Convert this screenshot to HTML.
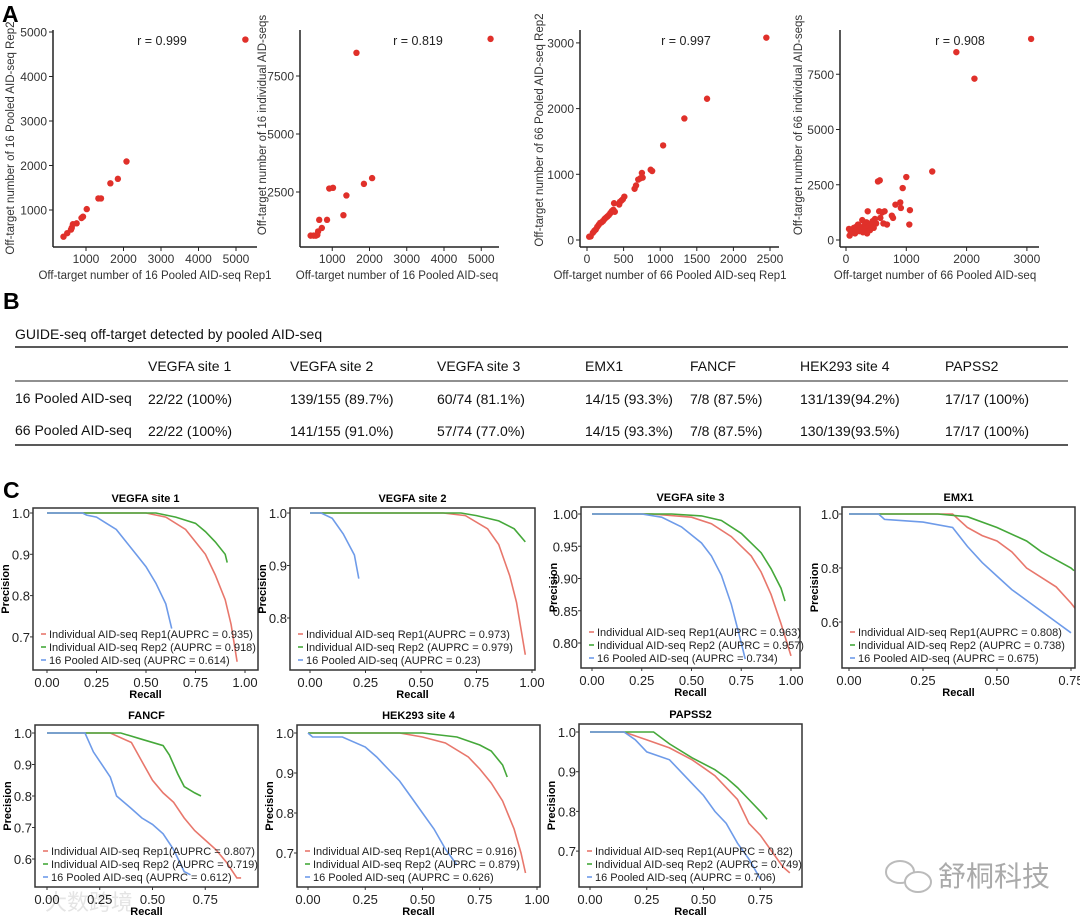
<!DOCTYPE html>
<html><head><meta charset="utf-8"><style>
html,body{margin:0;padding:0;background:#fff;}
svg{display:block;font-family:"Liberation Sans",Arial,sans-serif;}
</style></head><body>
<svg id="fig" width="1080" height="920" viewBox="0 0 1080 920" xmlns="http://www.w3.org/2000/svg">
<rect x="0" y="0" width="1080" height="920" fill="#fff"/>
<text x="2" y="22" font-size="23" font-weight="bold">A</text>
<text x="3" y="309" font-size="23" font-weight="bold">B</text>
<text x="3" y="498" font-size="23" font-weight="bold">C</text>
<g font-size="14" fill="#111">
<text x="15" y="339">GUIDE-seq off-target detected by pooled AID-seq</text>
<line x1="15" y1="347" x2="1068" y2="347" stroke="#222" stroke-width="1.5"/>
<line x1="15" y1="381" x2="1068" y2="381" stroke="#222" stroke-width="1"/>
<line x1="15" y1="445" x2="1068" y2="445" stroke="#222" stroke-width="1.5"/>
<text x="148" y="371">VEGFA site 1</text>
<text x="290" y="371">VEGFA site 2</text>
<text x="437" y="371">VEGFA site 3</text>
<text x="585" y="371">EMX1</text>
<text x="690" y="371">FANCF</text>
<text x="800" y="371">HEK293 site 4</text>
<text x="945" y="371">PAPSS2</text>
<text x="15" y="403">16 Pooled AID-seq</text>
<text x="148" y="404">22/22 (100%)</text><text x="290" y="404">139/155 (89.7%)</text><text x="437" y="404">60/74 (81.1%)</text><text x="585" y="404">14/15 (93.3%)</text><text x="690" y="404">7/8 (87.5%)</text><text x="800" y="404">131/139(94.2%)</text><text x="945" y="404">17/17 (100%)</text>
<text x="15" y="435">66 Pooled AID-seq</text>
<text x="148" y="436">22/22 (100%)</text><text x="290" y="436">141/155 (91.0%)</text><text x="437" y="436">57/74 (77.0%)</text><text x="585" y="436">14/15 (93.3%)</text><text x="690" y="436">7/8 (87.5%)</text><text x="800" y="436">130/139(93.5%)</text><text x="945" y="436">17/17 (100%)</text>
</g>
<g>
<ellipse cx="900" cy="872" rx="14" ry="11" fill="none" stroke="#bbb" stroke-width="2"/>
<ellipse cx="918" cy="882" rx="13" ry="10" fill="#fff" stroke="#bbb" stroke-width="2"/>
<text x="938" y="886" font-size="28" fill="#aaa" font-family="'Liberation Sans','Noto Sans CJK SC',sans-serif">舒桐科技</text>
<text x="45" y="910" font-size="22" fill="#e4e4e4" font-family="'Liberation Sans','Noto Sans CJK SC',sans-serif">大数跨境</text>
</g>
</svg>
<script>
const NS="http://www.w3.org/2000/svg";
const svg=document.getElementById('fig');
function mk(tag,attrs,parent,txt){const e=document.createElementNS(NS,tag);for(const k in attrs)e.setAttribute(k,attrs[k]);if(txt!==undefined)e.textContent=txt;(parent||svg).appendChild(e);return e;}

// ---- Panel A data ----
const a1X=[400,500,600,620,650,750,880,920,1020,1330,1400,1650,1850,2080,5250];
const a1Y=[400,480,560,600,680,700,820,850,1020,1260,1260,1600,1700,2090,4830];
const a2X=[420,500,560,600,620,650,720,860,920,1020,1300,1380,1650,1850,2070,5250];
const a2Y=[620,620,620,650,800,1300,950,1300,2650,2680,1500,2350,8500,2850,3100,9100];
const a3X=[30,50,80,100,120,140,160,180,200,220,240,260,280,300,320,340,360,370,380,440,450,470,490,510,650,670,700,730,750,760,870,890,1040,1330,1640,2450];
const a3Y=[50,55,110,140,160,200,230,260,270,290,320,340,360,380,410,440,460,560,430,540,580,600,620,660,780,830,920,940,1020,950,1070,1050,1440,1850,2150,3080];
const a4X=[50,60,80,100,130,150,170,190,200,220,250,270,280,300,320,340,350,360,380,400,420,440,460,480,500,530,560,550,570,600,620,640,680,760,780,820,900,910,940,1000,1050,1060,1430,1830,2130,3070];
const a4Y=[500,200,350,400,550,300,600,450,700,400,550,900,350,650,500,800,300,1300,600,450,700,850,550,950,750,2650,2700,1300,1000,1250,750,1300,700,1100,1000,1600,1700,1450,2350,2850,700,1350,3100,8500,7300,9100];
const aXTicks=[[1000,2000,3000,4000,5000],[1000,2000,3000,4000,5000],[0,500,1000,1500,2000,2500],[0,1000,2000,3000]];
const aYTicks=[[1000,2000,3000,4000,5000],[2500,5000,7500],[0,1000,2000,3000],[0,2500,5000,7500]];
const aR=["r = 0.999","r = 0.819","r = 0.997","r = 0.908"];
const aXTitles=["Off-target number of 16 Pooled AID-seq Rep1","Off-target number of 16 Pooled AID-seq","Off-target number of 66 Pooled AID-seq Rep1","Off-target number of 66 Pooled AID-seq"];
const aYTitles=["Off-target number of 16 Pooled AID-seq Rep2","Off-target number of 16 individual AID-seqs","Off-target number of 66 Pooled AID-seq Rep2","Off-target number of 66 individual AID-seqs"];
const aXs=[a1X,a2X,a3X,a4X], aYs=[a1Y,a2Y,a3Y,a4Y];
const aGeo=[
 {ax:53,right:257,x0:48.5,sx:0.0375,y0:254.5,sy:0.0445,rx:162,ttx:14,tty:138,xt:155},
 {ax:300,right:499,x0:295,sx:0.03725,y0:250,sy:0.0232,rx:418,ttx:266,tty:125,xt:397},
 {ax:580,right:779,x0:587,sx:0.0732,y0:240,sy:0.0657,rx:686,ttx:543,tty:130,xt:670},
 {ax:840,right:1039,x0:846,sx:0.0603,y0:240,sy:0.0221,rx:960,ttx:802,tty:125,xt:935}];
aGeo.forEach((g,i)=>{
 const G=mk('g',{});
 
 
 const xS=v=>g.x0+v*g.sx, yS=v=>g.y0-v*g.sy;
 mk('line',{x1:g.ax,y1:30,x2:g.ax,y2:247,stroke:'#222','stroke-width':1.5},G);
 mk('line',{x1:g.ax,y1:247,x2:g.right,y2:247,stroke:'#222','stroke-width':1.5},G);
 aXTicks[i].forEach(t=>{mk('line',{x1:xS(t),y1:247,x2:xS(t),y2:251,stroke:'#222'},G);
  const tx=mk('text',{x:xS(t),y:263,'font-size':12,fill:'#333','text-anchor':'middle'},G,String(t));
  });
 aYTicks[i].forEach(t=>{mk('line',{x1:g.ax-4,y1:yS(t),x2:g.ax,y2:yS(t),stroke:'#222'},G);
  const tx=mk('text',{x:g.ax-6,y:yS(t)+4.5,'font-size':12,fill:'#333','text-anchor':'end'},G,String(t));
  });
 aXs[i].forEach((v,j)=>{const c=mk('circle',{cx:xS(v),cy:yS(aYs[i][j]),r:3.2,fill:'#e0302a'},G);
  });
 const r=mk('text',{x:g.rx,y:45,'font-size':12.5,fill:'#222','text-anchor':'middle'},G,aR[i]);
 
 const xt=mk('text',{x:g.xt,y:279,'font-size':11.5,fill:'#333','text-anchor':'middle'},G,aXTitles[i]);
 
 const yt=mk('text',{x:0,y:0,'font-size':11.5,fill:'#333','text-anchor':'middle',transform:`translate(${g.ttx},${g.tty}) rotate(-90)`},G,aYTitles[i]);
 
});

// ---- Panel C data ----
const cTitles=["VEGFA site 1","VEGFA site 2","VEGFA site 3","EMX1","FANCF","HEK293 site 4","PAPSS2"];
const cRep1=[
 [[0,1],[0.5,1],[0.6,0.99],[0.7,0.96],[0.75,0.93],[0.8,0.9],[0.85,0.85],[0.9,0.79],[0.93,0.73],[0.95,0.67],[0.96,0.64]],
 [[0,1],[0.6,1],[0.7,0.995],[0.8,0.97],[0.85,0.94],[0.9,0.88],[0.93,0.83],[0.95,0.78],[0.97,0.73]],
 [[0,1],[0.3,1],[0.5,0.995],[0.6,0.985],[0.7,0.965],[0.8,0.935],[0.85,0.91],[0.9,0.875],[0.95,0.83],[1.0,0.78]],
 [[0,1],[0.35,1],[0.4,0.95],[0.45,0.92],[0.5,0.9],[0.55,0.86],[0.6,0.8],[0.7,0.73],[0.75,0.67],[0.8,0.6],[0.85,0.53],[0.9,0.47],[0.93,0.46]],
 [[0,1],[0.3,1],[0.4,0.97],[0.45,0.91],[0.5,0.85],[0.55,0.81],[0.6,0.78],[0.65,0.73],[0.7,0.69],[0.75,0.66],[0.8,0.63],[0.85,0.59],[0.9,0.54],[0.92,0.54]],
 [[0,1],[0.4,1],[0.5,0.99],[0.6,0.975],[0.7,0.94],[0.75,0.91],[0.8,0.875],[0.85,0.83],[0.9,0.76],[0.93,0.7],[0.95,0.65]],
 [[0,1],[0.15,1],[0.25,0.98],[0.35,0.96],[0.45,0.93],[0.5,0.91],[0.55,0.89],[0.6,0.86],[0.65,0.83],[0.7,0.77],[0.75,0.74],[0.8,0.7],[0.85,0.66],[0.88,0.645]]];
const cRep2=[
 [[0,1],[0.55,1],[0.65,0.99],[0.75,0.975],[0.8,0.955],[0.85,0.93],[0.9,0.9],[0.91,0.88]],
 [[0,1],[0.68,1],[0.75,0.995],[0.85,0.985],[0.92,0.97],[0.97,0.945]],
 [[0,1],[0.4,1],[0.55,0.997],[0.65,0.99],[0.75,0.97],[0.85,0.94],[0.9,0.915],[0.95,0.885],[0.97,0.865]],
 [[0,1],[0.3,1],[0.4,0.99],[0.5,0.95],[0.6,0.9],[0.65,0.86],[0.7,0.83],[0.75,0.8],[0.76,0.79]],
 [[0,1],[0.35,1],[0.45,0.98],[0.55,0.96],[0.58,0.93],[0.62,0.87],[0.65,0.83],[0.7,0.81],[0.73,0.8]],
 [[0,1],[0.5,1],[0.65,0.99],[0.75,0.97],[0.8,0.955],[0.85,0.92],[0.87,0.89]],
 [[0,1],[0.28,1],[0.35,0.97],[0.45,0.935],[0.55,0.905],[0.6,0.885],[0.65,0.86],[0.7,0.83],[0.75,0.8],[0.78,0.78]]];
const cPool=[
 [[0,1],[0.18,1],[0.2,0.995],[0.25,0.99],[0.3,0.975],[0.35,0.96],[0.4,0.93],[0.45,0.9],[0.5,0.87],[0.55,0.83],[0.6,0.78],[0.63,0.72]],
 [[0,1],[0.05,1],[0.1,0.99],[0.15,0.96],[0.2,0.92],[0.22,0.875]],
 [[0,1],[0.25,1],[0.35,0.995],[0.45,0.98],[0.55,0.955],[0.6,0.935],[0.65,0.905],[0.7,0.86],[0.75,0.8],[0.77,0.775]],
 [[0,1],[0.1,1],[0.12,0.98],[0.25,0.97],[0.35,0.95],[0.4,0.88],[0.45,0.82],[0.5,0.77],[0.55,0.72],[0.6,0.68],[0.65,0.64],[0.7,0.6],[0.75,0.56]],
 [[0,1],[0.18,1],[0.22,0.94],[0.25,0.91],[0.3,0.86],[0.33,0.8],[0.4,0.76],[0.45,0.73],[0.5,0.71],[0.55,0.68],[0.6,0.63],[0.65,0.56],[0.68,0.55]],
 [[0,1],[0.02,0.99],[0.15,0.99],[0.25,0.965],[0.3,0.94],[0.35,0.91],[0.4,0.88],[0.45,0.84],[0.5,0.8],[0.55,0.76],[0.6,0.71],[0.65,0.67]],
 [[0,1],[0.15,1],[0.2,0.98],[0.25,0.95],[0.35,0.93],[0.4,0.9],[0.45,0.87],[0.5,0.84],[0.55,0.8],[0.6,0.77],[0.65,0.72],[0.7,0.68],[0.75,0.63]]];
const cAuprc1=["0.935","0.973","0.963","0.808","0.807","0.916","0.82"];
const cAuprc2=["0.918","0.979","0.957","0.738","0.719","0.879","0.749"];
const cAuprcP=["0.614","0.23","0.734","0.675","0.612","0.626","0.706"];
const cXTicks=[[0,0.25,0.5,0.75,1],[0,0.25,0.5,0.75,1],[0,0.25,0.5,0.75,1],[0,0.25,0.5,0.75],[0,0.25,0.5,0.75],[0,0.25,0.5,0.75,1],[0,0.25,0.5,0.75]];
const cYTicks=[[0.7,0.8,0.9,1.0],[0.8,0.9,1.0],[0.8,0.85,0.9,0.95,1.0],[0.6,0.8,1.0],[0.6,0.7,0.8,0.9,1.0],[0.7,0.8,0.9,1.0],[0.7,0.8,0.9,1.0]];
const cYDec=[1,1,2,1,1,1,1];
const cGeo=[
 {L:33,R:258,T:508,B:670,x0:47,sx:198,y1:513,sy:413},
 {L:290,R:535,T:508,B:670,x0:310,sx:222,y1:513,sy:525},
 {L:581,R:800,T:507,B:668,x0:592,sx:199,y1:514,sy:645},
 {L:842,R:1075,T:507,B:668,x0:849,sx:296,y1:514,sy:270},
 {L:35,R:258,T:725,B:887,x0:47,sx:211,y1:733,sy:315},
 {L:297,R:540,T:725,B:887,x0:308,sx:229,y1:733,sy:400},
 {L:579,R:802,T:724,B:887,x0:590,sx:227,y1:732,sy:397}];
const cCol=['#e8776c','#45a83a','#6e9be9'];
cGeo.forEach((g,i)=>{
 const G=mk('g',{});
 
 
 const xS=v=>g.x0+v*g.sx, yS=v=>g.y1+(1-v)*g.sy;
 const cid='clip'+i;
 const cp=mk('clipPath',{id:cid},G); mk('rect',{x:g.L,y:g.T,width:g.R-g.L,height:g.B-g.T},cp);
 [cRep1[i],cRep2[i],cPool[i]].forEach((s,k)=>{
  const p=mk('polyline',{points:s.map(d=>xS(d[0]).toFixed(1)+','+yS(d[1]).toFixed(1)).join(' '),fill:'none',stroke:cCol[k],'stroke-width':1.6,'clip-path':`url(#${cid})`},G);
  
  
 });
 mk('rect',{x:g.L,y:g.T,width:g.R-g.L,height:g.B-g.T,fill:'none',stroke:'#333','stroke-width':1.5},G);
 const t=mk('text',{x:(g.L+g.R)/2,y:g.T-6,'font-size':11,'font-weight':'bold','text-anchor':'middle'},G,cTitles[i]);
 
 cXTicks[i].forEach(v=>{mk('line',{x1:xS(v),y1:g.B,x2:xS(v),y2:g.B+3,stroke:'#333'},G);
  const tx=mk('text',{x:xS(v),y:g.B+17,'font-size':13,fill:'#222','text-anchor':'middle'},G,v.toFixed(2));
  });
 cYTicks[i].forEach(v=>{mk('line',{x1:g.L-3,y1:yS(v),x2:g.L,y2:yS(v),stroke:'#333'},G);
  const tx=mk('text',{x:g.L-3,y:yS(v)+5,'font-size':13,fill:'#222','text-anchor':'end'},G,v.toFixed(cYDec[i]));
  });
 const xl=mk('text',{x:(g.L+g.R)/2,y:g.B+28,'font-size':11,'font-weight':'bold','text-anchor':'middle'},G,'Recall');
 
 const yl=mk('text',{x:0,y:0,'font-size':11,'font-weight':'bold','text-anchor':'middle',transform:`translate(${g.L-24},${(g.T+g.B)/2}) rotate(-90)`},G,'Precision');
 
 const labs=['Individual AID-seq Rep1(AUPRC = '+cAuprc1[i]+')','Individual AID-seq Rep2 (AUPRC = '+cAuprc2[i]+')','16 Pooled AID-seq (AUPRC = '+cAuprcP[i]+')'];
 [32,19,6].forEach((off,k)=>{const yy=g.B-off;
  const e=mk('g',{},G);
  
  mk('line',{x1:g.L+8,y1:yy-4,x2:g.L+13,y2:yy-4,stroke:cCol[k],'stroke-width':1.6},e);
  mk('text',{x:g.L+16,y:yy,'font-size':11,fill:'#222'},e,labs[k]);
 });
});
</script>
</body></html>
